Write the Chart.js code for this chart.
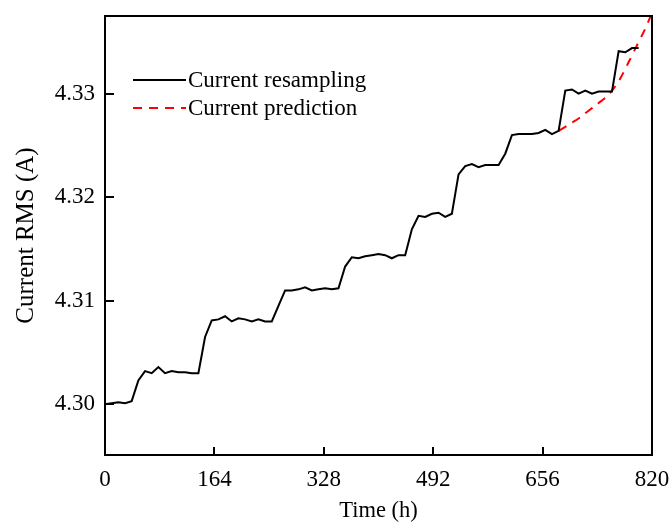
<!DOCTYPE html>
<html>
<head>
<meta charset="utf-8">
<script src="https://cdn.jsdelivr.net/npm/chart.js@4/dist/chart.umd.min.js"></script>
<style>
  html, body { margin: 0; padding: 0; background: #fff; }
  #wrap { width: 670px; height: 525px; }
</style>
</head>
<body>
<div id="wrap"><canvas id="chart"></canvas></div>
<script>
"use strict";

// time axis (h)
const times = [0, 10, 20, 30, 40, 50, 60, 70, 80, 90, 100, 110, 120, 130, 140, 150, 160, 170, 180, 190,
  200, 210, 220, 230, 240, 250, 260, 270, 280, 290, 300, 310, 320, 330, 340, 350, 360, 370, 380, 390,
  400, 410, 420, 430, 440, 450, 460, 470, 480, 490, 500, 510, 520, 530, 540, 550, 560, 570, 580, 590,
  600, 610, 620, 630, 640, 650, 660, 670, 680, 690, 700, 710, 720, 730, 740, 750, 760, 770, 780, 790, 800];

const resampling = [4.3000, 4.3001, 4.3002, 4.3001, 4.3003, 4.3023, 4.3032, 4.3030, 4.3036, 4.3030,
  4.3032, 4.3031, 4.3031, 4.3030, 4.3030, 4.3065, 4.3081, 4.3082, 4.3085, 4.3080,
  4.3083, 4.3082, 4.3080, 4.3082, 4.3080, 4.3080, 4.3095, 4.3110, 4.3110, 4.3111,
  4.3113, 4.3110, 4.3111, 4.3112, 4.3111, 4.3112, 4.3133, 4.3142, 4.3141, 4.3143,
  4.3144, 4.3145, 4.3144, 4.3141, 4.3144, 4.3144, 4.3169, 4.3182, 4.3181, 4.3184,
  4.3185, 4.3181, 4.3184, 4.3222, 4.3230, 4.3232, 4.3229, 4.3231, 4.3231, 4.3231,
  4.3242, 4.3260, 4.3261, 4.3261, 4.3261, 4.3262, 4.3265, 4.3261, 4.3264, 4.3303,
  4.3304, 4.3300, 4.3303, 4.3300, 4.3302, 4.3302, 4.3302, 4.3341, 4.3340, 4.3344, 4.3344];

const predTimes = [680, 690, 700, 710, 720, 730, 740, 750, 760, 770, 780, 790, 800, 810, 820];
const prediction = [4.3264, 4.3268, 4.3272, 4.3276, 4.3281, 4.3286, 4.3291, 4.3296, 4.3303,
  4.3312, 4.3324, 4.3337, 4.3350, 4.3363, 4.3378];

const xTicks = [0, 164, 328, 492, 656, 820];
const yTicks = [4.30, 4.31, 4.32, 4.33];

const FONT = "'Liberation Serif', 'Times New Roman', serif";

// frame + inward ticks
const framePlugin = {
  id: "frame",
  afterDatasetsDraw(chart) {
    const {ctx, chartArea: a, scales} = chart;
    ctx.save();
    ctx.strokeStyle = "#000";
    ctx.lineWidth = 2;
    ctx.strokeRect(a.left, a.top, a.right - a.left, a.bottom - a.top);
    ctx.beginPath();
    xTicks.forEach(v => {
      const x = Math.round(scales.x.getPixelForValue(v));
      ctx.moveTo(x, a.bottom);
      ctx.lineTo(x, a.bottom - 8);
    });
    yTicks.forEach(v => {
      const y = Math.round(scales.y.getPixelForValue(v));
      ctx.moveTo(a.left, y);
      ctx.lineTo(a.left + 9, y);
    });
    ctx.stroke();
    ctx.restore();
  }
};

// legend in top-left of the plot
const legendPlugin = {
  id: "innerLegend",
  afterDraw(chart) {
    const {ctx, chartArea: a} = chart;
    ctx.save();
    ctx.font = "23px " + FONT;
    ctx.textBaseline = "middle";
    chart.data.datasets.forEach((ds, i) => {
      const y = a.top + 64 + i * 28;
      ctx.strokeStyle = ds.borderColor;
      ctx.lineWidth = 2;
      ctx.setLineDash(ds.borderDash || []);
      ctx.beginPath();
      ctx.moveTo(a.left + 28, y);
      ctx.lineTo(a.left + 81, y);
      ctx.stroke();
      ctx.setLineDash([]);
      ctx.fillStyle = "#000";
      ctx.fillText(ds.label, a.left + 83, y + 1);
    });
    ctx.restore();
  }
};

new Chart(document.getElementById("chart"), {
  type: "line",
  data: {
    datasets: [{
      label: "Current resampling",
      data: times.map((t, i) => ({x: t, y: resampling[i]})),
      borderColor: "#000000",
      borderWidth: 2,
      pointRadius: 0,
      tension: 0
    }, {
      label: "Current prediction",
      data: predTimes.map((t, i) => ({x: t, y: prediction[i]})),
      borderColor: "#ff0000",
      borderWidth: 2,
      borderDash: [9, 7],
      pointRadius: 0,
      tension: 0.4
    }]
  },
  options: {
    responsive: true,
    maintainAspectRatio: false,
    animation: false,
    layout: {padding: {top: 16, right: 18, left: 0, bottom: 0}},
    plugins: {legend: {display: false}, tooltip: {enabled: false}},
    scales: {
      x: {
        type: "linear",
        min: 0,
        max: 820,
        afterBuildTicks: (s) => { s.ticks = xTicks.map(v => ({value: v})); },
        afterFit: (s) => { s.height = 70; s.paddingLeft = 0; s.paddingRight = 0; },
        grid: {display: false, drawTicks: false},
        border: {display: false},
        ticks: {color: "#000", padding: 11, maxRotation: 0, font: {family: FONT, size: 23}},
        title: {display: true, text: "Time (h)", color: "#000", padding: {top: 0, bottom: 0}, font: {family: FONT, size: 22.5}}
      },
      y: {
        min: 4.2951,
        max: 4.3375,
        afterBuildTicks: (s) => { s.ticks = yTicks.map(v => ({value: v})); },
        afterFit: (s) => { s.width = 105; s.paddingTop = 0; s.paddingBottom = 0; },
        grid: {display: false, drawTicks: false},
        border: {display: false},
        ticks: {color: "#000", padding: 10, font: {family: FONT, size: 23},
          callback: (v) => Number(v).toFixed(2)},
        title: {display: true, text: "Current RMS (A)", color: "#000", padding: {top: 11, bottom: 0}, font: {family: FONT, size: 25}}
      }
    }
  },
  plugins: [framePlugin, legendPlugin]
});
</script>
</body>
</html>
